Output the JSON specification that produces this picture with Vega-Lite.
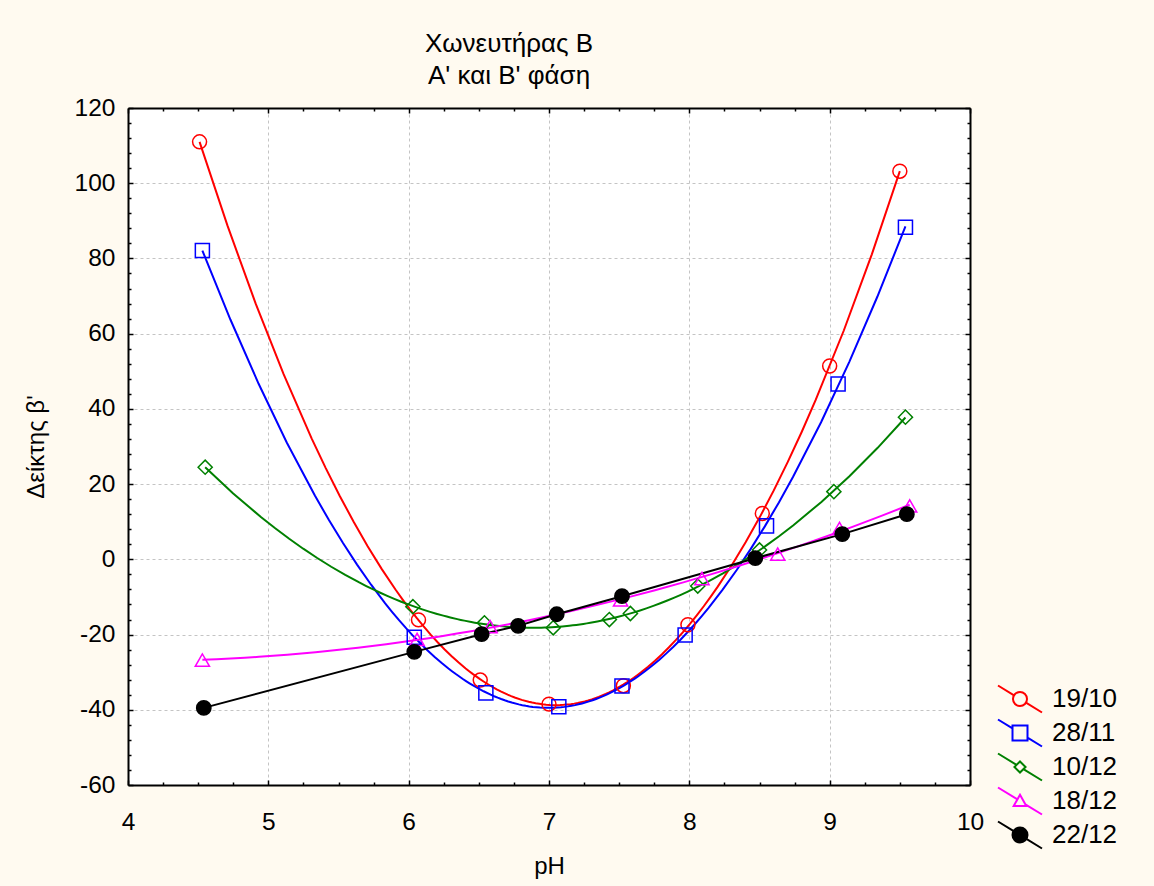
{
  "$schema": "https://vega.github.io/schema/vega-lite/v6.json",
  "width": 842,
  "height": 677,
  "autosize": {"type": "none"},
  "padding": {"left": 128, "top": 108, "right": 184, "bottom": 101},
  "background": "#fffaf0",
  "view": {"fill": "white", "stroke": null},
  "config": {
    "font": "Liberation Sans",
    "axis": {
      "domainColor": "black", "domainWidth": 2, "tickColor": "black", "tickWidth": 1.5,
      "labelFont": "Liberation Sans", "labelFontSize": 24.5, "labelColor": "black",
      "titleFont": "Liberation Sans", "titleFontSize": 24, "titleFontWeight": "normal", "titleColor": "black",
      "gridColor": "#c4c4c4", "gridDash": [3, 3], "gridWidth": 1
    }
  },
  "title": {
    "text": ["Χωνευτήρας Β", "Α' και Β' φάση"],
    "font": "Liberation Sans", "fontSize": 26, "fontWeight": "normal", "color": "black",
    "anchor": "middle", "dx": -40, "offset": 6, "lineHeight": 32
  },
  "data": {"values": [
    {"s": "19/10", "ph": 4.51, "b": 111.0},
    {"s": "19/10", "ph": 6.07, "b": -16.1},
    {"s": "19/10", "ph": 6.51, "b": -32.1},
    {"s": "19/10", "ph": 7.0, "b": -38.5},
    {"s": "19/10", "ph": 7.53, "b": -33.6},
    {"s": "19/10", "ph": 7.99, "b": -17.4},
    {"s": "19/10", "ph": 8.52, "b": 12.2},
    {"s": "19/10", "ph": 9.0, "b": 51.4},
    {"s": "19/10", "ph": 9.5, "b": 103.2},
    {"s": "28/11", "ph": 4.53, "b": 82.1},
    {"s": "28/11", "ph": 6.04, "b": -20.7},
    {"s": "28/11", "ph": 6.55, "b": -35.5},
    {"s": "28/11", "ph": 7.07, "b": -39.2},
    {"s": "28/11", "ph": 7.52, "b": -33.7},
    {"s": "28/11", "ph": 7.97, "b": -20.1},
    {"s": "28/11", "ph": 8.55, "b": 8.9},
    {"s": "28/11", "ph": 9.06, "b": 46.6},
    {"s": "28/11", "ph": 9.54, "b": 88.3},
    {"s": "10/12", "ph": 4.55, "b": 24.5},
    {"s": "10/12", "ph": 6.03, "b": -12.6},
    {"s": "10/12", "ph": 6.54, "b": -16.9},
    {"s": "10/12", "ph": 7.03, "b": -18.2},
    {"s": "10/12", "ph": 7.43, "b": -16.0},
    {"s": "10/12", "ph": 7.58, "b": -14.4},
    {"s": "10/12", "ph": 8.06, "b": -7.1},
    {"s": "10/12", "ph": 8.5, "b": 2.5},
    {"s": "10/12", "ph": 9.03, "b": 18.0},
    {"s": "10/12", "ph": 9.54, "b": 37.8},
    {"s": "18/12", "ph": 4.53, "b": -26.8},
    {"s": "18/12", "ph": 6.06, "b": -21.3},
    {"s": "18/12", "ph": 6.58, "b": -17.9},
    {"s": "18/12", "ph": 7.51, "b": -10.8},
    {"s": "18/12", "ph": 8.09, "b": -5.1},
    {"s": "18/12", "ph": 8.63, "b": 1.4},
    {"s": "18/12", "ph": 9.07, "b": 8.2},
    {"s": "18/12", "ph": 9.57, "b": 14.2},
    {"s": "22/12", "ph": 4.54, "b": -39.5},
    {"s": "22/12", "ph": 6.04, "b": -24.6},
    {"s": "22/12", "ph": 6.52, "b": -19.9},
    {"s": "22/12", "ph": 6.78, "b": -17.7},
    {"s": "22/12", "ph": 7.055, "b": -14.6},
    {"s": "22/12", "ph": 7.52, "b": -9.8},
    {"s": "22/12", "ph": 8.47, "b": 0.3},
    {"s": "22/12", "ph": 9.09, "b": 6.7},
    {"s": "22/12", "ph": 9.55, "b": 12.0}
  ]},
  "layer": [
    {
      "transform": [
        {"filter": {"field": "s", "oneOf": ["19/10", "28/11"]}},
        {"regression": "b", "on": "ph", "groupby": ["s"], "method": "poly", "order": 4}
      ],
      "mark": {"type": "line", "strokeWidth": 2},
      "encoding": {
        "x": {"field": "ph", "type": "quantitative", "scale": {"domain": [4, 10], "nice": false, "zero": false},
          "axis": {
            "orient": "bottom", "title": "pH", "titlePadding": 19,
            "values": [4, 4.25, 4.5, 4.75, 5, 5.25, 5.5, 5.75, 6, 6.25, 6.5, 6.75, 7, 7.25, 7.5, 7.75, 8, 8.25, 8.5, 8.75, 9, 9.25, 9.5, 9.75, 10],
            "labelExpr": "datum.value % 1 === 0 ? '' + datum.value : ''",
            "labelOverlap": false, "labelFlush": false, "labelPadding": 30,
            "tickSize": {"condition": {"test": "datum.value % 1 === 0", "value": -5}, "value": -3},
            "grid": true,
            "gridOpacity": {"condition": {"test": "datum.value % 1 === 0", "value": 1}, "value": 0}
          }},
        "y": {"field": "b", "type": "quantitative", "scale": {"domain": [-60, 120], "nice": false, "zero": false},
          "axis": {
            "orient": "left", "title": "Δείκτης β'", "titlePadding": 26,
            "values": [-60, -56, -52, -48, -44, -40, -36, -32, -28, -24, -20, -16, -12, -8, -4, 0, 4, 8, 12, 16, 20, 24, 28, 32, 36, 40, 44, 48, 52, 56, 60, 64, 68, 72, 76, 80, 84, 88, 92, 96, 100, 104, 108, 112, 116, 120],
            "labelExpr": "datum.value % 20 === 0 ? '' + datum.value : ''",
            "labelOverlap": false, "labelFlush": false, "labelPadding": 18,
            "tickSize": {"condition": {"test": "datum.value % 20 === 0", "value": -5}, "value": -3},
            "grid": true,
            "gridOpacity": {"condition": {"test": "datum.value % 20 === 0", "value": 1}, "value": 0}
          }},
        "color": {"field": "s", "type": "nominal", "legend": null,
          "scale": {"domain": ["19/10", "28/11", "10/12", "18/12", "22/12"], "range": ["#ff0000", "#0000ff", "#008000", "#ff00ff", "#000000"]}}
      }
    },
    {
      "transform": [
        {"filter": {"field": "s", "equal": "10/12"}},
        {"regression": "b", "on": "ph", "groupby": ["s"], "method": "poly", "order": 3}
      ],
      "mark": {"type": "line", "strokeWidth": 2},
      "encoding": {
        "x": {"field": "ph", "type": "quantitative", "axis": null},
        "y": {"field": "b", "type": "quantitative", "axis": null},
        "color": {"field": "s", "type": "nominal", "legend": null}
      }
    },
    {
      "transform": [
        {"filter": {"field": "s", "equal": "18/12"}},
        {"regression": "b", "on": "ph", "groupby": ["s"], "method": "poly", "order": 2}
      ],
      "mark": {"type": "line", "strokeWidth": 2},
      "encoding": {
        "x": {"field": "ph", "type": "quantitative", "axis": null},
        "y": {"field": "b", "type": "quantitative", "axis": null},
        "color": {"field": "s", "type": "nominal", "legend": null}
      }
    },
    {
      "transform": [{"filter": {"field": "s", "equal": "22/12"}}],
      "mark": {"type": "line", "strokeWidth": 2},
      "encoding": {
        "x": {"field": "ph", "type": "quantitative", "axis": null},
        "y": {"field": "b", "type": "quantitative", "axis": null},
        "order": {"field": "ph", "type": "quantitative"},
        "color": {"field": "s", "type": "nominal", "legend": null}
      }
    },
    {
      "mark": {"type": "point", "strokeWidth": 1.5, "opacity": 1},
      "encoding": {
        "x": {"field": "ph", "type": "quantitative",
          "axis": {
            "orient": "top", "title": null, "labels": false, "grid": false,
            "values": [4, 4.25, 4.5, 4.75, 5, 5.25, 5.5, 5.75, 6, 6.25, 6.5, 6.75, 7, 7.25, 7.5, 7.75, 8, 8.25, 8.5, 8.75, 9, 9.25, 9.5, 9.75, 10],
            "tickSize": {"condition": {"test": "datum.value % 1 === 0", "value": -5}, "value": -3}
          }},
        "y": {"field": "b", "type": "quantitative",
          "axis": {
            "orient": "right", "title": null, "labels": false, "grid": false,
            "values": [-60, -56, -52, -48, -44, -40, -36, -32, -28, -24, -20, -16, -12, -8, -4, 0, 4, 8, 12, 16, 20, 24, 28, 32, 36, 40, 44, 48, 52, 56, 60, 64, 68, 72, 76, 80, 84, 88, 92, 96, 100, 104, 108, 112, 116, 120],
            "tickSize": {"condition": {"test": "datum.value % 20 === 0", "value": -5}, "value": -3}
          }},
        "stroke": {"field": "s", "type": "nominal", "legend": null,
          "scale": {"domain": ["19/10", "28/11", "10/12", "18/12", "22/12"], "range": ["#ff0000", "#0000ff", "#008000", "#ff00ff", "#000000"]}},
        "fill": {"field": "s", "type": "nominal", "legend": null,
          "scale": {"domain": ["19/10", "28/11", "10/12", "18/12", "22/12"], "range": ["transparent", "transparent", "transparent", "transparent", "#000000"]}},
        "shape": {"field": "s", "type": "nominal", "legend": null,
          "scale": {"domain": ["19/10", "28/11", "10/12", "18/12", "22/12"], "range": ["circle", "square", "diamond", "triangle-up", "circle"]}},
        "size": {"field": "s", "type": "nominal", "legend": null,
          "scale": {"domain": ["19/10", "28/11", "10/12", "18/12", "22/12"], "range": [195, 205, 130, 190, 185]}}
      }
    },
    {
      "mark": {"type": "point", "opacity": 0, "filled": false},
      "encoding": {
        "x": {"field": "ph", "type": "quantitative", "axis": null},
        "y": {"field": "b", "type": "quantitative", "axis": null},
        "stroke": {"field": "s", "type": "nominal",
          "scale": {"domain": ["19/10", "28/11", "10/12", "18/12", "22/12"], "range": ["#ff0000", "#0000ff", "#008000", "#ff00ff", "#000000"]},
          "legend": {"title": null, "orient": "none", "legendX": 876, "legendY": 575, "labelFont": "Liberation Sans", "labelFontSize": 26, "labelColor": "black", "symbolSize": 900, "symbolStrokeWidth": 2, "labelOffset": 16, "rowPadding": -2,
            "encode": {"symbols": {"update": {"opacity": {"value": 1}}}}}},
        "fill": {"field": "s", "type": "nominal",
          "scale": {"domain": ["19/10", "28/11", "10/12", "18/12", "22/12"], "range": ["transparent", "transparent", "transparent", "transparent", "#000000"]},
          "legend": {"title": null, "orient": "none", "legendX": 876, "legendY": 575, "labelFont": "Liberation Sans", "labelFontSize": 26, "labelColor": "black", "symbolSize": 900, "symbolStrokeWidth": 2, "labelOffset": 16, "rowPadding": -2,
            "encode": {"symbols": {"update": {"opacity": {"value": 1}}}}}},
        "shape": {"field": "s", "type": "nominal",
          "scale": {"domain": ["19/10", "28/11", "10/12", "18/12", "22/12"], "range": [
            "M-1.467,-0.9L-0.398,-0.244M0.398,0.244L1.467,0.9M0.467,0A0.467,0.467 0 1,1 -0.467,0A0.467,0.467 0 1,1 0.467,0Z",
            "M-1.467,-0.9L-0.5,-0.307M0.5,0.307L1.467,0.9M-0.5,-0.5L0.5,-0.5L0.5,0.5L-0.5,0.5Z",
            "M-1.467,-0.9L-0.229,-0.141M0.229,0.141L1.467,0.9M0,-0.37L0.37,0L0,0.37L-0.37,0Z",
            "M-1.467,-0.9L-0.17,-0.104M0.356,0.219L1.467,0.9M0,-0.42L0.42,0.33L-0.42,0.33Z",
            "M-1.467,-0.9L1.467,0.9M0.5,0A0.5,0.5 0 1,1 -0.5,0A0.5,0.5 0 1,1 0.5,0Z"
          ]},
          "legend": {"title": null, "orient": "none", "legendX": 876, "legendY": 575, "labelFont": "Liberation Sans", "labelFontSize": 26, "labelColor": "black", "symbolSize": 900, "symbolStrokeWidth": 2, "labelOffset": 16, "rowPadding": -2,
            "encode": {"symbols": {"update": {"opacity": {"value": 1}}}}}}
      }
    }
  ],
  "resolve": {"scale": {"stroke": "independent", "fill": "independent", "shape": "independent", "size": "independent"}}
}
